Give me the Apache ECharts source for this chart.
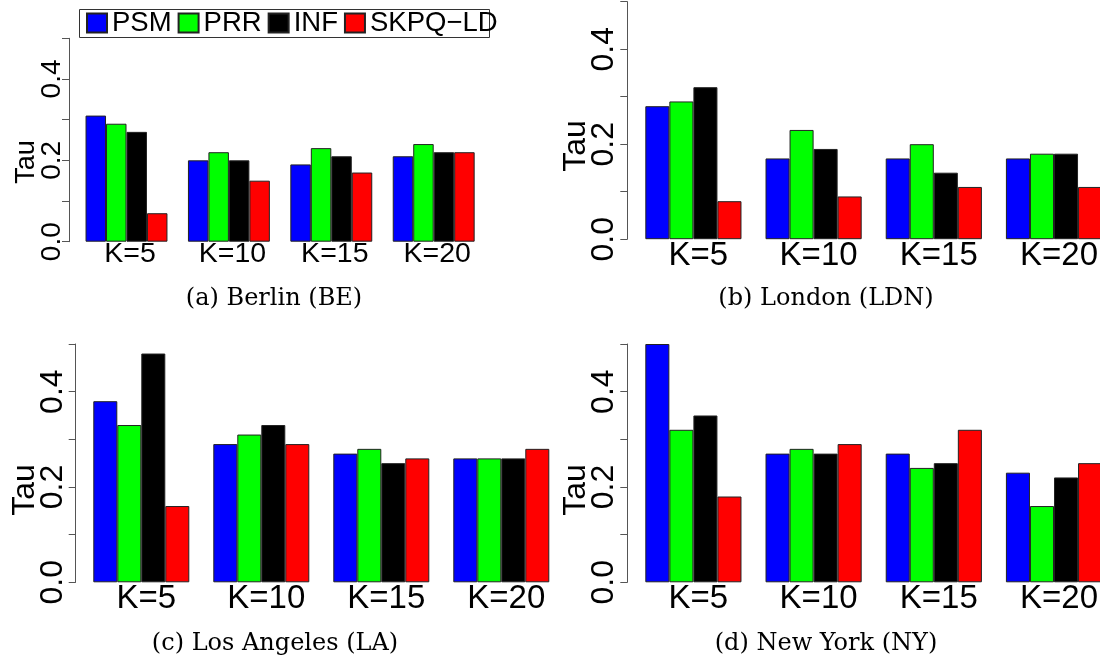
<!DOCTYPE html>
<html>
<head>
<meta charset="utf-8">
<title>Tau by K</title>
<script src="https://cdn.jsdelivr.net/npm/echarts@6/dist/echarts.min.js"></script>
<style>
  html, body { margin: 0; padding: 0; background: #fff; }
  #chart { width: 1100px; height: 658px; }
</style>
</head>
<body>
<div id="chart"></div>
<script>
// Categories and method names
const categories = ['K=5', 'K=10', 'K=15', 'K=20'];
const methods = ['PSM', 'PRR', 'INF', 'SKPQ\u2212LD'];
const methodColors = ['#0000ff', '#00ff00', '#000000', '#ff0000'];
const yTickLabels = ['0.0', '', '0.2', '', '0.4', ''];

// (a) Berlin
const bePSM  = [0.31, 0.20, 0.19, 0.21];
const bePRR  = [0.29, 0.22, 0.23, 0.24];
const beINF  = [0.27, 0.20, 0.21, 0.22];
const beSKPQ = [0.07, 0.15, 0.17, 0.22];

// (b) London
const ldnPSM  = [0.28, 0.17, 0.17, 0.17];
const ldnPRR  = [0.29, 0.23, 0.20, 0.18];
const ldnINF  = [0.32, 0.19, 0.14, 0.18];
const ldnSKPQ = [0.08, 0.09, 0.11, 0.11];

// (c) Los Angeles
const laPSM  = [0.38, 0.29, 0.27, 0.26];
const laPRR  = [0.33, 0.31, 0.28, 0.26];
const laINF  = [0.48, 0.33, 0.25, 0.26];
const laSKPQ = [0.16, 0.29, 0.26, 0.28];

// (d) New York
const nyPSM  = [0.50, 0.27, 0.27, 0.23];
const nyPRR  = [0.32, 0.28, 0.24, 0.16];
const nyINF  = [0.35, 0.27, 0.25, 0.22];
const nySKPQ = [0.18, 0.29, 0.32, 0.25];

const panelData = [
  [bePSM, bePRR, beINF, beSKPQ],
  [ldnPSM, ldnPRR, ldnINF, ldnSKPQ],
  [laPSM, laPRR, laINF, laSKPQ],
  [nyPSM, nyPRR, nyINF, nySKPQ]
];

const captions = ['(a) Berlin (BE)', '(b) London (LDN)', '(c) Los Angeles (LA)', '(d) New York (NY)'];

// Panel geometry: plot boxes, axis offsets and font sizes
const panels = [
  { left: 75.3,  top: 38.3, width: 409.6, height: 203.4, offset: 6.3, xFont: 28.5, yFont: 28, xMargin: -2, yMargin: 2.4, xShift: 7,
    tau: { x: 40, y: 162, size: 27 }, cap: { x: 274, y: 299 } },
  { left: 633.3, top: 1.7,  width: 480.8, height: 237.5, offset: 6,   xFont: 33, yFont: 32, xMargin: 0, yMargin: 7, xShift: 10,
    tau: { x: 592, y: 146, size: 32 }, cap: { x: 826, y: 299 } },
  { left: 81.3,  top: 344,  width: 480,   height: 238.3, offset: 5.6, xFont: 33, yFont: 32, xMargin: 0, yMargin: 7, xShift: 10,
    tau: { x: 41, y: 490, size: 32 }, cap: { x: 275, y: 644 } },
  { left: 633.3, top: 344,  width: 480.8, height: 238.3, offset: 6,   xFont: 33, yFont: 32, xMargin: 0, yMargin: 7, xShift: 10,
    tau: { x: 592, y: 490, size: 32 }, cap: { x: 826, y: 644 } }
];

const sans = "'Liberation Sans', Arial, Helvetica, sans-serif";
const serif = "'DejaVu Serif', 'Liberation Serif', serif";

const grid = [], xAxis = [], yAxis = [], series = [], graphics = [];

panels.forEach((p, i) => {
  grid.push({ left: p.left, top: p.top, width: p.width, height: p.height, containLabel: false, outerBoundsMode: 'none' });
  xAxis.push({
    type: 'category', gridIndex: i, data: categories,
    axisLine: { show: false }, axisTick: { show: false },
    axisLabel: { fontSize: p.xFont, fontFamily: sans, color: '#000', margin: p.xMargin, padding: [0, 0, 0, p.xShift] }
  });
  yAxis.push({
    type: 'value', gridIndex: i, min: 0, max: 0.5, interval: 0.1, offset: p.offset,
    splitLine: { show: false },
    axisLine: { show: true, lineStyle: { color: '#555', width: 1 } },
    axisTick: { show: true, length: 7, lineStyle: { color: '#555' } },
    axisLabel: {
      rotate: 90, fontSize: p.yFont, fontFamily: sans, color: '#000', margin: p.yMargin,
      formatter: (v) => yTickLabels[Math.round(v * 10)] || ''
    }
  });
  methods.forEach((m, k) => {
    series.push({
      type: 'bar', name: m, xAxisIndex: i, yAxisIndex: i,
      data: panelData[i][k],
      barGap: '0%', barCategoryGap: '20%',
      itemStyle: { color: methodColors[k], borderColor: '#222', borderWidth: 1 },
      emphasis: { disabled: true }
    });
  });
  graphics.push({
    type: 'text', x: p.tau.x, y: p.tau.y, rotation: Math.PI / 2,
    style: { text: 'Tau', fontSize: p.tau.size, fontFamily: sans, fill: '#000', textAlign: 'center', textVerticalAlign: 'bottom' }
  });
  graphics.push({
    type: 'text', x: p.cap.x, y: p.cap.y,
    style: { text: captions[i], fontSize: 24, fontFamily: serif, fill: '#000', textAlign: 'center', textVerticalAlign: 'middle' }
  });
});

// Frame around the legend of panel (a)
graphics.push({
  type: 'rect', shape: { x: 79.5, y: 9.5, width: 410, height: 28 },
  style: { fill: 'none', stroke: '#333', lineWidth: 1 }, z: 0
});

const chart = echarts.init(document.getElementById('chart'), null, { renderer: 'canvas' });
chart.setOption({
  animation: false,
  backgroundColor: '#fff',
  grid, xAxis, yAxis, series,
  legend: {
    data: methods.map((m) => ({ name: m, icon: 'rect' })),
    left: 86, top: 9, padding: 0, itemGap: 6, itemWidth: 20, itemHeight: 19,
    selectedMode: false,
    textStyle: { fontSize: 27.5, fontFamily: sans, color: '#000', padding: 0 }
  },
  graphic: graphics
});
</script>
</body>
</html>
